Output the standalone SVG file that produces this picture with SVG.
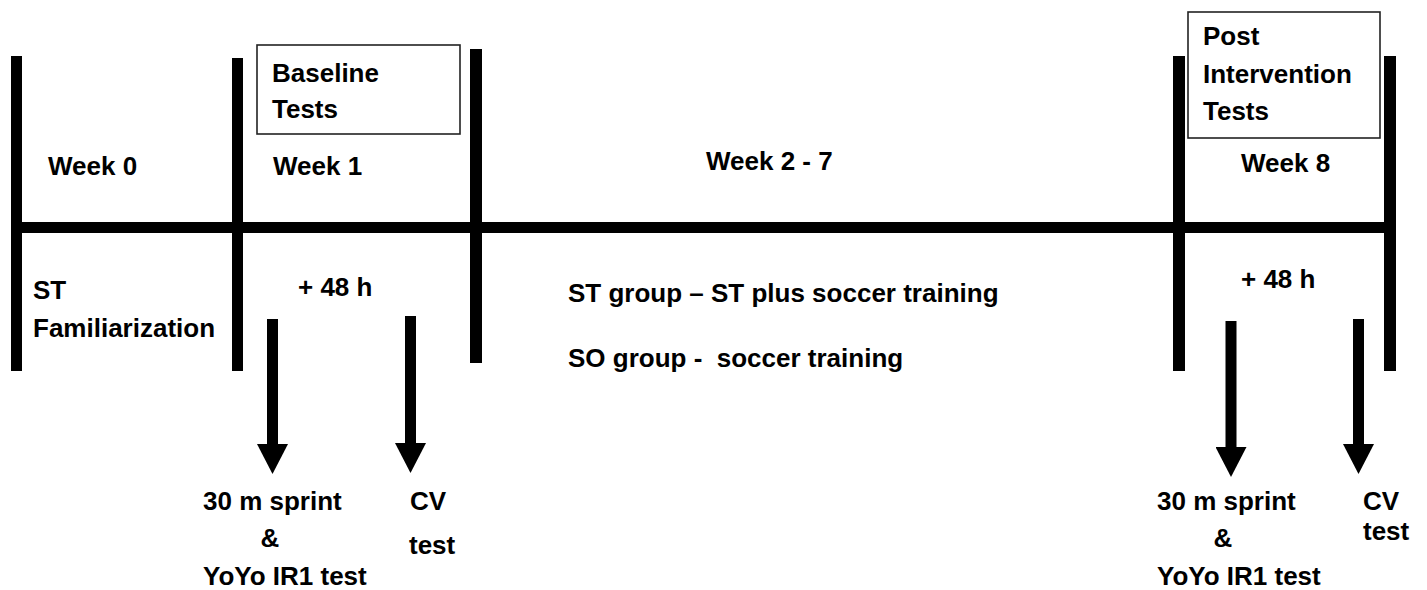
<svg xmlns="http://www.w3.org/2000/svg" width="1427" height="590" viewBox="0 0 1427 590">
<style>
.t{font-family:"Liberation Sans",Arial,sans-serif;font-weight:bold;font-size:26px;fill:#000}
.bar{fill:#000}
.box{fill:none;stroke:#222;stroke-width:1.6}
.arr{stroke:#000;stroke-width:11;fill:none}
</style>
<defs>
<marker id="head" viewBox="0 0 30 31" refX="0" refY="15.5" markerWidth="30" markerHeight="31" markerUnits="userSpaceOnUse" orient="auto">
<path d="M0,0 L30,15.5 L0,31 Z" fill="#000"/>
</marker>
</defs>
<g id="timeline">
<rect class="bar" x="11" y="222" width="1385" height="11"/>
<rect class="bar" x="11" y="56" width="11" height="315"/>
<rect class="bar" x="232" y="58" width="11" height="313"/>
<rect class="bar" x="470" y="49" width="12" height="314"/>
<rect class="bar" x="1173" y="56" width="12" height="315"/>
<rect class="bar" x="1384" y="56" width="12" height="315"/>
</g>
<g id="week0">
<text class="t" x="48" y="175">Week 0</text>
<text class="t" x="33" y="299">ST</text>
<text class="t" x="33" y="337">Familiarization</text>
</g>
<g id="baseline-box">
<rect class="box" x="257" y="45" width="203" height="89"/>
<text class="t" x="272" y="82">Baseline</text>
<text class="t" x="272" y="118">Tests</text>
</g>
<g id="week1">
<text class="t" x="273" y="175">Week 1</text>
<text class="t" x="298" y="296">+ 48 h</text>
</g>
<g id="week2-7">
<text class="t" x="706" y="170">Week 2 - 7</text>
<text class="t" x="568" y="302">ST group – ST plus soccer training</text>
<text class="t" x="568" y="367" xml:space="preserve">SO group -  soccer training</text>
</g>
<g id="post-box">
<rect class="box" x="1188" y="12" width="192" height="126"/>
<text class="t" x="1203" y="45">Post</text>
<text class="t" x="1203" y="83">Intervention</text>
<text class="t" x="1203" y="120">Tests</text>
</g>
<g id="week8">
<text class="t" x="1241" y="172">Week 8</text>
<text class="t" x="1241" y="288">+ 48 h</text>
</g>
<g id="connectors">
<line class="arr" x1="272.5" y1="319" x2="272.5" y2="444" marker-end="url(#head)"/>
<line class="arr" x1="410.5" y1="316" x2="410.5" y2="443" marker-end="url(#head)"/>
<line class="arr" x1="1231" y1="321" x2="1231" y2="447" marker-end="url(#head)"/>
<line class="arr" x1="1358.5" y1="319" x2="1358.5" y2="444" marker-end="url(#head)"/>
</g>
<g id="baseline-tests">
<text class="t" x="203" y="510">30 m sprint</text>
<text class="t" x="270" y="547" text-anchor="middle">&amp;</text>
<text class="t" x="203" y="585">YoYo IR1 test</text>
<text class="t" x="410" y="510">CV</text>
<text class="t" x="409" y="554">test</text>
</g>
<g id="post-tests">
<text class="t" x="1157" y="510">30 m sprint</text>
<text class="t" x="1223" y="547" text-anchor="middle">&amp;</text>
<text class="t" x="1157" y="585">YoYo IR1 test</text>
<text class="t" x="1363" y="510">CV</text>
<text class="t" x="1363" y="540">test</text>
</g>
</svg>
